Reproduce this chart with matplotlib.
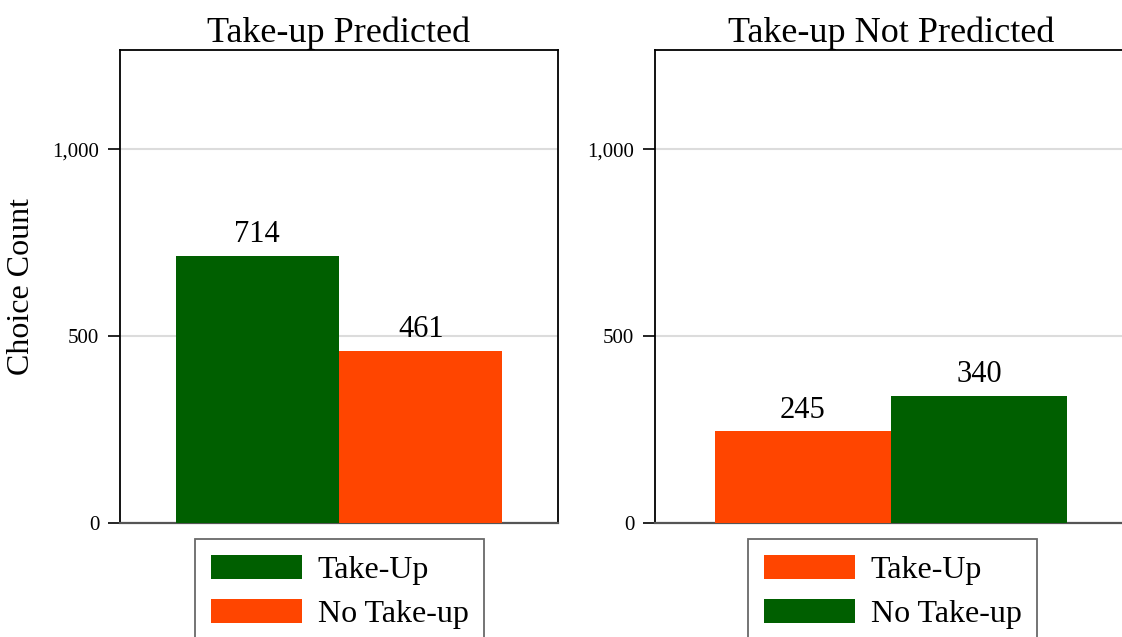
import matplotlib
matplotlib.use("Agg")
import matplotlib.pyplot as plt
from matplotlib.patches import Patch

plt.rcParams['font.family'] = ['Liberation Serif', 'DejaVu Serif']

# Data
panel_titles = ["Take-up Predicted", "Take-up Not Predicted"]
series_labels = ["Take-Up", "No Take-up"]
predicted_counts = [714, 461]        # Take-Up, No Take-up
not_predicted_counts = [245, 340]    # Take-Up, No Take-up
y_ticks = [0, 500, 1000]
y_tick_labels = ["0", "500", "1,000"]

GREEN = "#005f00"
ORANGE = "#ff4500"
panel_colors = [[GREEN, ORANGE], [ORANGE, GREEN]]
panel_counts = [predicted_counts, not_predicted_counts]

W, H = 1122, 637
fig = plt.figure(figsize=(W / 100, H / 100), dpi=100)

axes_px = [(120, 438), (655, 472)]   # left edge, width in pixels
top_px, bottom_px = 50, 523
legend_centers = [339.5, 892.5]

for i, (left, width) in enumerate(axes_px):
    ax = fig.add_axes([left / W, (H - bottom_px) / H, width / W,
                       (bottom_px - top_px) / H])
    counts = panel_counts[i]
    colors = panel_colors[i]
    bars = ax.bar([0, 1], counts, width=1.0, color=colors, zorder=3)
    for b, v in zip(bars, counts):
        ax.text(b.get_x() + b.get_width() / 2, v + 18, f"{v}",
                ha="center", va="bottom", fontsize=22, zorder=4)
    ax.set_xlim(-0.84, 1.84)
    ax.set_ylim(0, 1265)
    ax.set_xticks([])
    ax.set_yticks(y_ticks)
    ax.set_yticklabels(y_tick_labels, fontsize=15)
    ax.tick_params(axis="y", length=9, width=1.2, pad=6, colors="black")
    ax.grid(axis="y", color="#dcdcdc", linewidth=1.5, zorder=0)
    for s in ["top", "left", "right"]:
        ax.spines[s].set_color("black")
        ax.spines[s].set_linewidth(1.3)
    ax.spines["bottom"].set_color("#555555")
    ax.spines["bottom"].set_linewidth(1.6)
    ax.set_title(panel_titles[i], fontsize=26, pad=6)
    if i == 0:
        ax.set_ylabel("Choice Count", fontsize=23, labelpad=12)

    handles = [Patch(facecolor=c, edgecolor="none") for c in colors]
    leg = fig.legend(handles, series_labels,
                     loc="upper center",
                     bbox_to_anchor=(legend_centers[i] / W, 1 - 539 / H),
                     fontsize=23, frameon=True, fancybox=False,
                     edgecolor="#444444", handlelength=2.85, handleheight=0.78,
                     handletextpad=0.5, labelspacing=0.42, borderpad=0.5,
                     borderaxespad=0)
    leg.get_frame().set_linewidth(1.3)

fig.savefig("out.png", dpi=100)
